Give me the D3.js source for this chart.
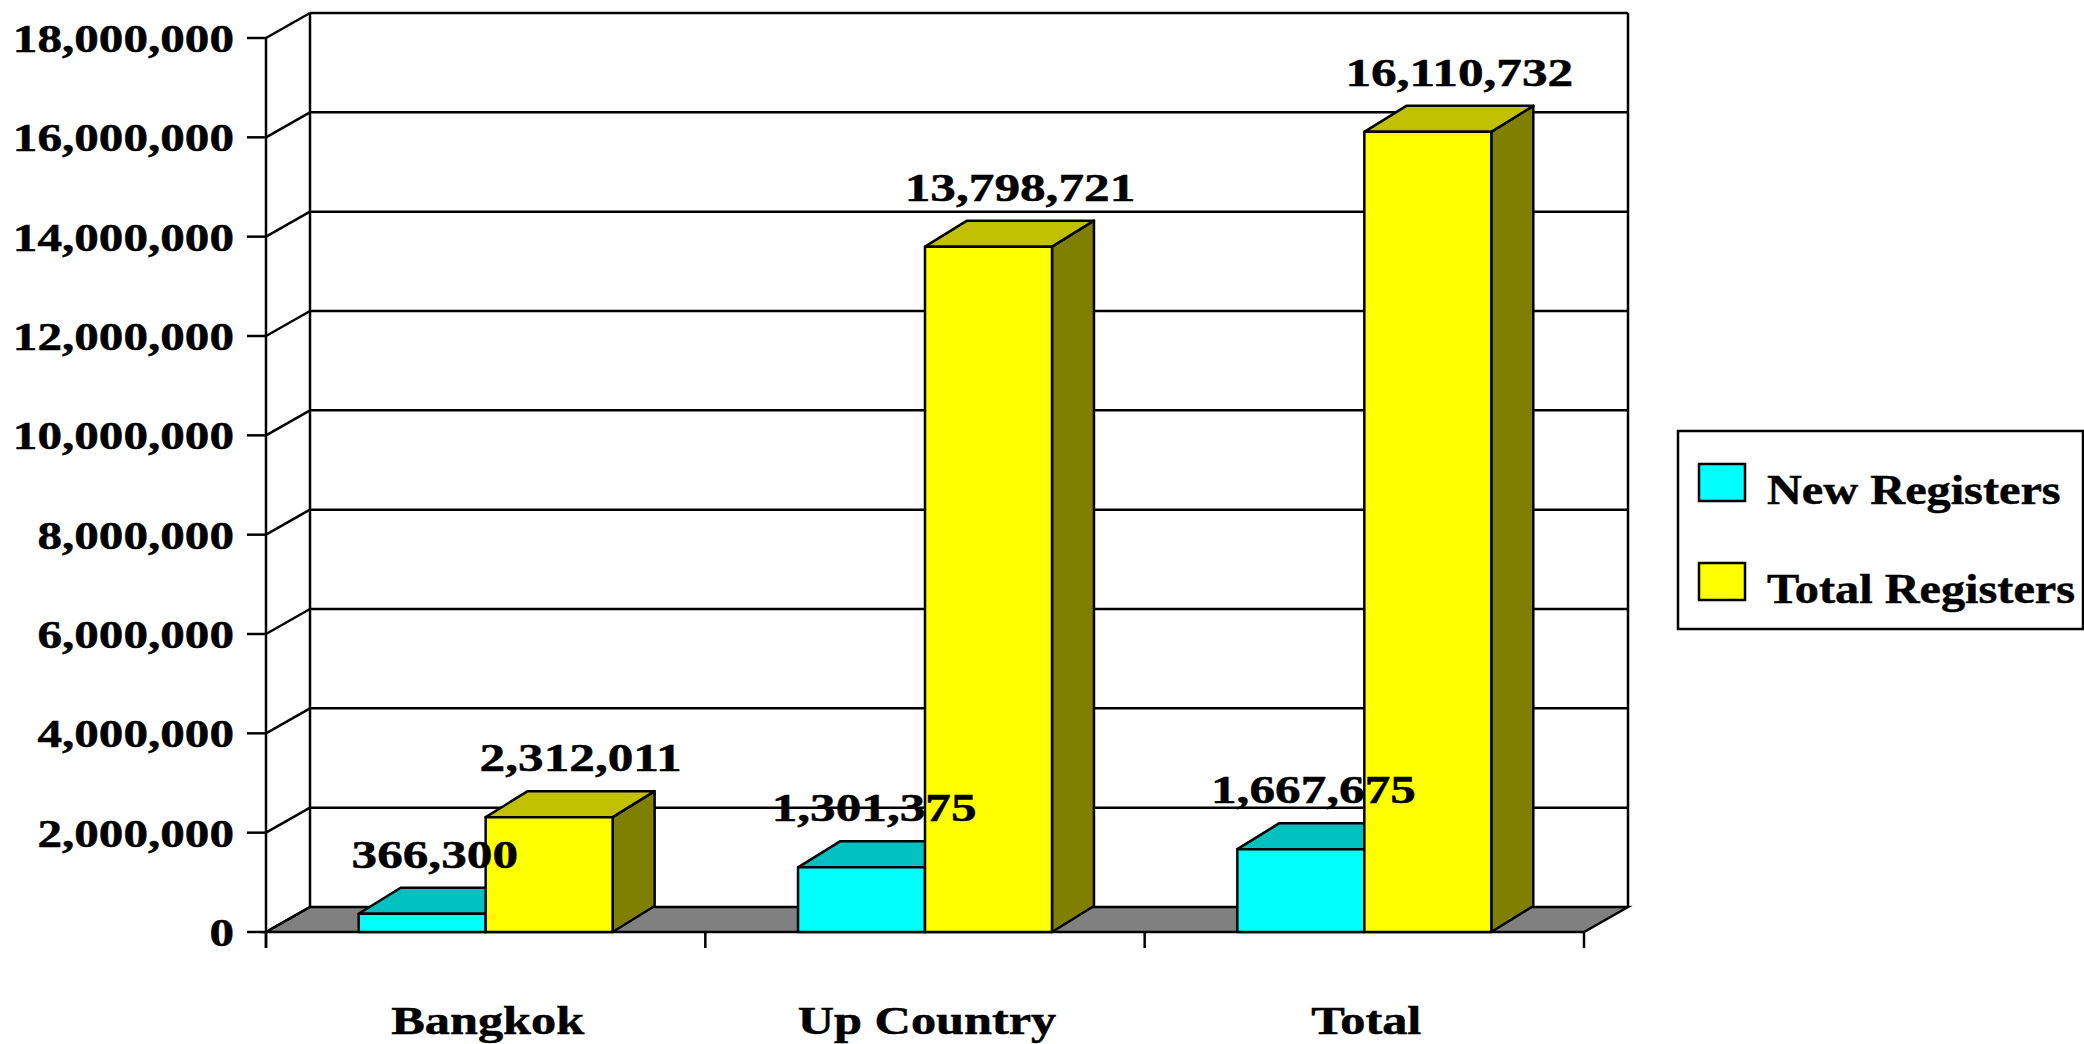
<!DOCTYPE html>
<html>
<head>
<meta charset="utf-8">
<script src="https://cdn.jsdelivr.net/npm/d3@7"></script>
<style>
  html, body { margin: 0; padding: 0; background: #fff; }
  svg { display: block; }
  text { font-family: "Liberation Serif", "Times New Roman", serif; font-weight: bold; fill: #000; stroke: #000; stroke-width: 0.5px; }
</style>
</head>
<body>
<div id="chart"></div>
<script>
// data
const categories = ["Bangkok", "Up Country", "Total"];
const seriesNames = ["New Registers", "Total Registers"];
const newRegisters = [366300, 1301375, 1667675];
const totalRegisters = [2312011, 13798721, 16110732];
const yTicks = [0, 2000000, 4000000, 6000000, 8000000, 10000000, 12000000, 14000000, 16000000, 18000000];

const W = 2084, H = 1044;
const dx = 44, dy = -25;      // wall / floor depth
const bdx = 42, bdy = -26;    // bar depth

const colors = {
  "New Registers": { front: "#00ffff", top: "#00c0c0", side: "#008080", lab: 0.3 },
  "Total Registers": { front: "#ffff00", top: "#c0c000", side: "#808000", lab: 0.75 }
};

const svg = d3.select("#chart").append("svg")
  .attr("width", W).attr("height", H);

const x = d3.scaleBand().domain(categories).range([266, 1584]);
const y = d3.scaleLinear().domain([0, 18000000]).range([932, 38]);
const xs = d3.scaleBand().domain(seriesNames).range([0, x.bandwidth()]).paddingOuter(0.73);

const fmt = d3.format(",");
const x0 = x.range()[0], x1 = x.range()[1];

function stretchText(g, px, py, str, size, anchor, sx) {
  return g.append("text")
    .attr("transform", "translate(" + px + "," + py + ") scale(" + sx + ",1)")
    .attr("text-anchor", anchor)
    .style("font-size", size + "px")
    .text(str);
}

// walls
const walls = svg.append("g")
  .attr("fill", "none").attr("stroke", "#000").attr("stroke-width", 2.5);

walls.append("path")
  .attr("d", d3.line()([[x0, y(0)], [x1, y(0)], [x1 + dx, y(0) + dy], [x0 + dx, y(0) + dy]]) + "Z")
  .attr("fill", "#808080");

yTicks.forEach(function (t) {
  walls.append("line")
    .attr("x1", x0).attr("y1", y(t)).attr("x2", x0 + dx).attr("y2", y(t) + dy);
  if (t > 0) {
    walls.append("line")
      .attr("x1", x0 + dx).attr("y1", y(t) + dy).attr("x2", x1 + dx).attr("y2", y(t) + dy);
  }
  walls.append("line")
    .attr("x1", x0 - 19).attr("y1", y(t)).attr("x2", x0).attr("y2", y(t));
});

// back wall verticals
walls.append("line")
  .attr("x1", x0 + dx).attr("y1", y(18000000) + dy).attr("x2", x0 + dx).attr("y2", y(0) + dy);
walls.append("line")
  .attr("x1", x1 + dx).attr("y1", y(18000000) + dy).attr("x2", x1 + dx).attr("y2", y(0) + dy);
// front axis
walls.append("line")
  .attr("x1", x0).attr("y1", y(18000000)).attr("x2", x0).attr("y2", y(0) + 16);

// category ticks
x.domain().concat([null]).forEach(function (c) {
  const px = c === null ? x1 : x(c);
  walls.append("line")
    .attr("x1", px).attr("y1", y(0)).attr("x2", px).attr("y2", y(0) + 16);
});

// y labels
const yLab = svg.append("g");
yTicks.forEach(function (t) {
  stretchText(yLab, 234, y(t) + 14, fmt(t), 39, "end", 1.26);
});

// bars
const bars = [];
categories.forEach(function (c, i) {
  bars.push({ cat: c, s: seriesNames[0], v: newRegisters[i] });
  bars.push({ cat: c, s: seriesNames[1], v: totalRegisters[i] });
});

const barG = svg.append("g").attr("stroke", "#000").attr("stroke-width", 2.5)
  .attr("stroke-linejoin", "round");

bars.forEach(function (d) {
  const a = x(d.cat) + xs(d.s), b = a + xs.bandwidth();
  const yt = y(d.v), yb = y(0);
  const col = colors[d.s];
  barG.append("path")
    .attr("d", d3.line()([[b, yt], [b + bdx, yt + bdy], [b + bdx, yb + bdy], [b, yb]]) + "Z")
    .attr("fill", col.side);
  barG.append("path")
    .attr("d", d3.line()([[a, yt], [b, yt], [b + bdx, yt + bdy], [a + bdx, yt + bdy]]) + "Z")
    .attr("fill", col.top);
  barG.append("rect")
    .attr("x", a).attr("y", yt).attr("width", b - a).attr("height", yb - yt)
    .attr("fill", col.front);
});

// value labels
const valG = svg.append("g");
bars.forEach(function (d) {
  const a = x(d.cat) + xs(d.s);
  stretchText(valG, a + xs.bandwidth() / 2 + bdx * colors[d.s].lab, y(d.v) + bdy - 20,
    fmt(d.v), 41, "middle", 1.25);
});

// category labels
const catG = svg.append("g");
categories.forEach(function (c) {
  stretchText(catG, x(c) + x.bandwidth() / 2 + 2, 1034, c, 39, "middle", 1.29);
});

// legend
const leg = svg.append("g");
leg.append("rect")
  .attr("x", 1678).attr("y", 431).attr("width", 405).attr("height", 198)
  .attr("fill", "#fff").attr("stroke", "#000").attr("stroke-width", 2.5);
seriesNames.forEach(function (s, i) {
  leg.append("rect")
    .attr("x", 1699).attr("y", 464 + i * 99).attr("width", 46).attr("height", 37)
    .attr("fill", colors[s].front).attr("stroke", "#000").attr("stroke-width", 2.5);
  stretchText(leg, 1767, 504 + i * 99, s, 42, "start", 1.15);
});
</script>
</body>
</html>
